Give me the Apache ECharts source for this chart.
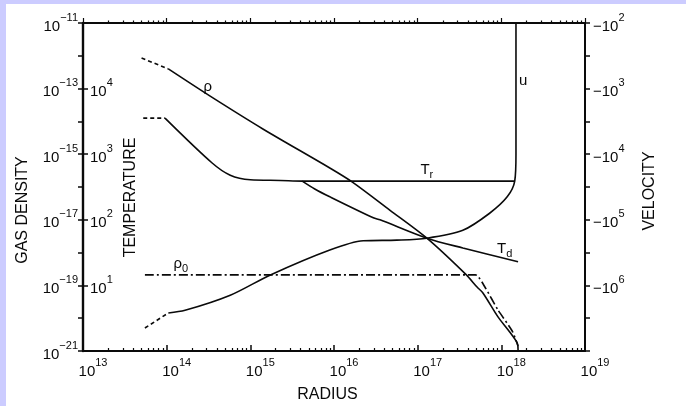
<!DOCTYPE html>
<html>
<head>
<meta charset="utf-8">
<script src="https://cdn.jsdelivr.net/npm/echarts@6/dist/echarts.min.js"></script>
<style>
html,body{margin:0;padding:0;background:#ccccff;width:686px;height:406px;overflow:hidden}
#chart{position:absolute;left:6px;top:4px;width:680px;height:402px;background:#fff}
</style>
</head>
<body>
<div id="chart"></div>
<script>
// All values are log10 exponents: radius (cm), gas density, temperature (K), |velocity|.
const rhoInnerR = [13.70, 14.02];
const rhoInnerV = [-12.07, -12.40];
const rhoR = [14.02, 14.52, 15.15, 15.95, 16.22, 16.67, 17.11, 17.57, 17.71, 17.78, 17.96, 18.10, 18.19, 18.20];
const rhoV = [-12.40, -13.23, -14.23, -15.42, -15.85, -16.71, -17.56, -18.65, -19.05, -19.23, -19.96, -20.42, -20.76, -20.97];

const rho0R = [13.74, 17.69, 17.81, 17.96, 18.13, 18.20];
const rho0V = [-18.68, -18.68, -19.08, -19.75, -20.39, -20.85];

const tInnerR = [13.72, 13.98];
const tInnerV = [3.55, 3.55];
const trR = [13.98, 14.54, 14.76, 15.00, 15.36, 15.62, 16.50, 17.50, 18.16];
const trV = [3.55, 2.87, 2.68, 2.61, 2.60, 2.59, 2.59, 2.59, 2.59];
const tdR = [15.62, 15.77, 15.95, 16.47, 16.55, 17.11, 17.54, 18.20];
const tdV = [2.59, 2.47, 2.35, 2.03, 2.00, 1.72, 1.57, 1.36];

const uInnerR = [13.74, 14.02];
const uInnerV = [6.65, 6.42];
const uR = [14.02, 14.22, 14.76, 15.24, 15.95, 16.35, 16.75, 17.11, 17.54, 17.86, 18.07, 18.16, 18.175, 18.175];
const uV = [6.42, 6.38, 6.15, 5.84, 5.46, 5.32, 5.31, 5.28, 5.16, 4.90, 4.65, 4.41, 4.00, 2.00];

// Axis tick exponents
const radiusDecades = [13, 14, 15, 16, 17, 18, 19];
const densityTicks = [-11, -13, -15, -17, -19, -21];
const temperatureTicks = [1, 2, 3, 4];
const velocityTicks = [2, 3, 4, 5, 6];

const INK = '#0a0a0a';
const FONT = 'Liberation Sans';

const zip = (xs, ys) => xs.map((x, i) => [x, ys[i]]);

const radiusMinor = [];
for (let n = 13; n < 19; n++) {
  for (let k = 2; k <= 9; k++) radiusMinor.push(n + Math.log10(k));
}

const powRich = (big, small) => ({
  b: { fontSize: big, lineHeight: 22, verticalAlign: 'bottom', color: INK, fontFamily: FONT },
  s: { fontSize: small, lineHeight: 12, verticalAlign: 'top', color: INK, fontFamily: FONT }
});
const pow = (base, exp) => '{b|' + base + '}{s|' + exp + '}';
const sign = v => (v < 0 ? '\u2212' + Math.abs(v) : String(v));

const subRich = {
  m: { fontSize: 15, color: INK, fontFamily: FONT, lineHeight: 18, verticalAlign: 'top' },
  d: { fontSize: 11, color: INK, fontFamily: FONT, lineHeight: 18, verticalAlign: 'bottom' }
};
const tag = (text, coord) => ({
  symbol: 'circle', symbolSize: 0, silent: true,
  label: { show: true, position: 'inside', formatter: text, rich: subRich },
  data: [{ coord: coord }]
});

const solid = { color: INK, width: 1.6 };
const dashed = { color: INK, width: 1.6, type: [4, 3] };

const chart = echarts.init(document.getElementById('chart'), null, { renderer: 'canvas' });

chart.setOption({
  animation: false,
  backgroundColor: '#fff',
  grid: { left: 77, top: 19, width: 502, height: 328, outerBoundsMode: 'none', containLabel: false },
  xAxis: [
    {
      type: 'value', position: 'bottom', min: 13, max: 19,
      axisLine: { lineStyle: { color: INK, width: 2 } },
      axisTick: { inside: true, length: 6, customValues: radiusDecades, lineStyle: { color: INK, width: 1.5 } },
      axisLabel: {
        customValues: radiusDecades, margin: 6, padding: [0, 0, 0, 20],
        formatter: v => pow('10', v), rich: powRich(15, 11)
      },
      splitLine: { show: false }
    },
    {
      type: 'value', position: 'top', min: 13, max: 19,
      axisLine: { lineStyle: { color: INK, width: 2 } },
      axisTick: { inside: false, length: 5, customValues: radiusDecades, lineStyle: { color: INK, width: 1.2 } },
      axisLabel: { show: false }, splitLine: { show: false }
    },
    {
      type: 'value', position: 'bottom', min: 13, max: 19,
      axisLine: { show: false },
      axisTick: { inside: true, length: 3, customValues: radiusMinor, lineStyle: { color: INK, width: 1.2 } },
      axisLabel: { show: false }, splitLine: { show: false }
    },
    {
      type: 'value', position: 'top', min: 13, max: 19,
      axisLine: { show: false },
      axisTick: { inside: false, length: 2.5, customValues: radiusMinor, lineStyle: { color: INK, width: 1.2 } },
      axisLabel: { show: false }, splitLine: { show: false }
    }
  ],
  yAxis: [
    {
      type: 'value', position: 'left', min: -21, max: -11, interval: 1,
      axisLine: { lineStyle: { color: INK, width: 2.4 } },
      axisTick: { inside: false, length: 5, lineStyle: { color: INK, width: 1.5 } },
      axisLabel: {
        margin: 5, showMinLabel: true, showMaxLabel: true,
        formatter: v => (densityTicks.includes(v) ? pow('10', sign(v)) : ''),
        rich: powRich(15, 11)
      },
      splitLine: { show: false }
    },
    {
      type: 'value', position: 'left', min: 0, max: 5, interval: 1,
      axisLine: { show: false },
      axisTick: { inside: true, length: 5, lineStyle: { color: INK, width: 1.5 } },
      axisLabel: {
        inside: true, margin: 7,
        formatter: v => (temperatureTicks.includes(v) ? pow('10', v) : ''),
        rich: powRich(15, 11)
      },
      splitLine: { show: false }
    },
    {
      type: 'value', position: 'right', min: 2, max: 7, interval: 0.5, inverse: true,
      axisLine: { lineStyle: { color: INK, width: 2 } },
      axisTick: { inside: false, length: 5, lineStyle: { color: INK, width: 1.5 } },
      axisLabel: {
        margin: 8, showMinLabel: true,
        formatter: v => (velocityTicks.includes(v) ? pow('\u221210', v) : ''),
        rich: powRich(15, 11)
      },
      splitLine: { show: false }
    }
  ],
  graphic: [
    { type: 'text', x: 17, y: 206, rotation: Math.PI / 2,
      style: { text: 'GAS DENSITY', fill: INK, font: '16px "Liberation Sans"', align: 'center', verticalAlign: 'middle' } },
    { type: 'text', x: 124.5, y: 193.5, rotation: Math.PI / 2,
      style: { text: 'TEMPERATURE', fill: INK, font: '16px "Liberation Sans"', align: 'center', verticalAlign: 'middle' } },
    { type: 'text', x: 643.5, y: 187, rotation: Math.PI / 2,
      style: { text: 'VELOCITY', fill: INK, font: '16px "Liberation Sans"', align: 'center', verticalAlign: 'middle' } },
    { type: 'text', x: 321.5, y: 391,
      style: { text: 'RADIUS', fill: INK, font: '16px "Liberation Sans"', align: 'center', verticalAlign: 'middle' } }
  ],
  series: [
    { type: 'line', name: 'rho inner', xAxisIndex: 0, yAxisIndex: 0, data: zip(rhoInnerR, rhoInnerV),
      showSymbol: false, lineStyle: dashed },
    { type: 'line', name: 'rho', xAxisIndex: 0, yAxisIndex: 0, data: zip(rhoR, rhoV),
      showSymbol: false, smooth: 0.3, lineStyle: solid,
      markPoint: tag('{m|\u03c1}', [14.49, -12.98]) },
    { type: 'line', name: 'rho0', xAxisIndex: 0, yAxisIndex: 0, data: zip(rho0R, rho0V),
      showSymbol: false, smooth: 0.2, lineStyle: { color: INK, width: 1.6, type: [9, 3, 2, 3] },
      markPoint: tag('{m|\u03c1}{d|0}', [14.17, -18.38]) },
    { type: 'line', name: 'T inner', xAxisIndex: 0, yAxisIndex: 1, data: zip(tInnerR, tInnerV),
      showSymbol: false, lineStyle: dashed },
    { type: 'line', name: 'Tr', xAxisIndex: 0, yAxisIndex: 1, data: zip(trR, trV),
      showSymbol: false, smooth: 0.3, lineStyle: solid,
      markPoint: tag('{m|T}{d|r}', [17.11, 2.74]) },
    { type: 'line', name: 'Td', xAxisIndex: 0, yAxisIndex: 1, data: zip(tdR, tdV),
      showSymbol: false, smooth: 0.3, lineStyle: solid,
      markPoint: tag('{m|T}{d|d}', [18.04, 1.54]) },
    { type: 'line', name: 'u inner', xAxisIndex: 0, yAxisIndex: 2, data: zip(uInnerR, uInnerV),
      showSymbol: false, lineStyle: dashed },
    { type: 'line', name: 'u', xAxisIndex: 0, yAxisIndex: 2, data: zip(uR, uV),
      showSymbol: false, smooth: 0.3, lineStyle: solid,
      markPoint: tag('{m|u}', [18.26, 2.90]) }
  ]
});
</script>
</body>
</html>
